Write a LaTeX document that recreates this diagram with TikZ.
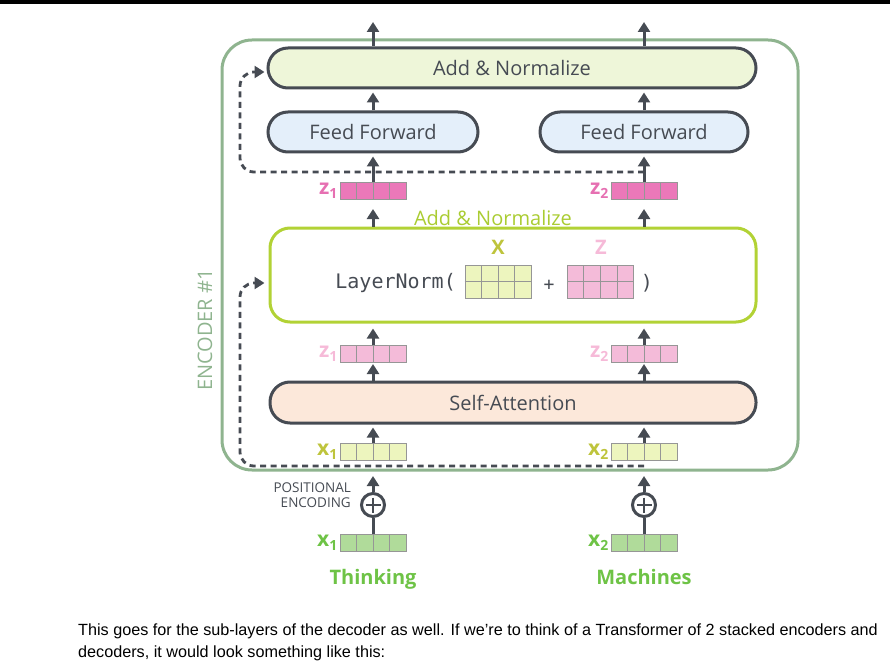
\documentclass[tikz,border=0pt]{standalone}
\usepackage{fontspec}
\setmainfont{Open Sans}
\newfontfamily\monoFont{DejaVu Sans Mono}
\newfontfamily\bodyFont{Liberation Sans}
\usetikzlibrary{calc,arrows.meta}
\definecolor{darkSlate}{RGB}{70,75,83}
\definecolor{encGreen}{RGB}{143,180,143}
\definecolor{cellGray}{RGB}{150,150,150}
\definecolor{addFill}{RGB}{238,246,217}
\definecolor{ffFill}{RGB}{228,239,250}
\definecolor{saFill}{RGB}{252,232,218}
\definecolor{lnGreen}{RGB}{178,210,53}
\definecolor{lnText}{RGB}{170,204,50}
\definecolor{xFill}{RGB}{237,245,190}
\definecolor{xOlive}{RGB}{190,196,60}
\definecolor{zFill}{RGB}{244,187,217}
\definecolor{zPink}{RGB}{246,186,216}
\definecolor{zDeepFill}{RGB}{235,120,185}
\definecolor{zDeep}{RGB}{230,112,178}
\definecolor{inFill}{RGB}{176,219,154}
\definecolor{inGreen}{RGB}{110,195,70}
\tikzset{
  layerBox/.style={draw=darkSlate,line width=3pt,rounded corners=20pt,minimum height=40pt,inner sep=0pt,font=\fontsize{20}{24}\selectfont\color{darkSlate}},
  flowArrow/.style={draw=darkSlate,line width=3pt,shorten >=3pt,-{Triangle[width=12pt,length=10pt]}},
  flowLine/.style={draw=darkSlate,line width=3pt},
  skipLine/.style={draw=darkSlate,line width=2.8pt,dash pattern=on 6pt off 4.5pt,rounded corners=14pt,-{Triangle[width=12pt,length=10pt]}},
  vecBox/.style={draw=cellGray,line width=1pt,minimum width=66pt,minimum height=17pt,inner sep=0pt},
  cellLine/.style={draw=cellGray,line width=1pt},
  vecLabel/.style={anchor=east,inner sep=2pt,font=\fontsize{21}{21}\selectfont\bfseries},
  plusNode/.style={circle,draw=darkSlate,line width=3pt,minimum size=23pt,inner sep=0pt}
}
\newcommand{\VecName}[2]{#1\raisebox{-0.18em}{\fontsize{14}{14}\selectfont #2}}
\newcommand{\CellVec}[4]{%
  \node[vecBox,fill=#4] (#1) at (#2,#3) {};
  \foreach \k in {1,2,3}
    \draw[cellLine] ($(#1.south west)!\k/4!(#1.south east)$) -- ($(#1.north west)!\k/4!(#1.north east)$);
}
\newcommand{\CellMat}[4]{%
  \node[vecBox,minimum height=33pt,fill=#4] (#1) at (#2,#3) {};
  \foreach \k in {1,2,3}
    \draw[cellLine] ($(#1.south west)!\k/4!(#1.south east)$) -- ($(#1.north west)!\k/4!(#1.north east)$);
  \draw[cellLine] (#1.west) -- (#1.east);
}
\begin{document}
\begin{tikzpicture}[x=1pt,y=-1pt]
\useasboundingbox (0,0) rectangle (890,668);
\fill[black] (0,0) rectangle (890,4);

% encoder frame
\node[draw=encGreen,line width=3pt,rounded corners=30pt,minimum width=576pt,minimum height=430pt] (encoder) at (510,255) {};
\node[rotate=90,text=encGreen,font=\fontsize{20}{20}\selectfont] (encLabel) at (205,330) {ENCODER \#1};

% layers
\node[layerBox,fill=addFill,minimum width=488pt] (addNorm) at (512,68) {Add \& Normalize};
\node[layerBox,fill=ffFill,minimum width=210pt] (ffLeft) at (373,132) {Feed Forward};
\node[layerBox,fill=ffFill,minimum width=208pt] (ffRight) at (644,132) {Feed Forward};
\node[draw=lnGreen,line width=3pt,rounded corners=20pt,fill=white,minimum width=486pt,minimum height=94pt] (layerNorm) at (513,275) {};
\node[layerBox,fill=saFill,minimum width=486pt,minimum height=41pt] (selfAtt) at (513,402.5) {Self-Attention};
\node[text=lnText,font=\fontsize{20}{20}\selectfont,inner sep=1pt] (lnTitle) at (493,218) {Add \& Normalize};

% inside layer norm
\node[anchor=east,inner sep=2pt,text=darkSlate,font=\monoFont\fontsize{20}{20}\selectfont] (lnWord) at (458,283) {LayerNorm(};
\CellMat{matX}{498}{281.5}{xFill}
\CellMat{matZ}{600.5}{281.5}{zFill}
\node[text=darkSlate,font=\monoFont\fontsize{18}{18}\selectfont] (lnPlus) at (549,285) {+};
\node[text=darkSlate,font=\monoFont\fontsize{20}{20}\selectfont] (lnClose) at (647,283) {)};
\node[text=xOlive,font=\fontsize{20}{20}\selectfont\bfseries] (matXName) at (498,247) {X};
\node[text=zPink,font=\fontsize{20}{20}\selectfont\bfseries] (matZName) at (601,247) {Z};

% vectors
\CellVec{zTopL}{373}{191}{zDeepFill}
\CellVec{zTopR}{644}{191}{zDeepFill}
\CellVec{zL}{373}{354}{zFill}
\CellVec{zR}{644}{354}{zFill}
\CellVec{xL}{373}{452}{xFill}
\CellVec{xR}{644}{452}{xFill}
\CellVec{inL}{373}{542.5}{inFill}
\CellVec{inR}{644}{542.5}{inFill}
\node[vecLabel,text=zDeep] (zTopLName) at (zTopL.west) {\VecName{z}{1}};
\node[vecLabel,text=zDeep] (zTopRName) at (zTopR.west) {\VecName{z}{2}};
\node[vecLabel,text=zPink] (zLName) at (zL.west) {\VecName{z}{1}};
\node[vecLabel,text=zPink] (zRName) at (zR.west) {\VecName{z}{2}};
\node[vecLabel,text=xOlive] (xLName) at (xL.west) {\VecName{x}{1}};
\node[vecLabel,text=xOlive] (xRName) at (xR.west) {\VecName{x}{2}};
\node[vecLabel,text=inGreen] (inLName) at (inL.west) {\VecName{x}{1}};
\node[vecLabel,text=inGreen] (inRName) at (inR.west) {\VecName{x}{2}};

% positional encoding
\node[plusNode] (posL) at (373,505) {};
\node[plusNode] (posR) at (644,505) {};
\foreach \p in {posL,posR}
  \draw[flowLine,line width=2.6pt] ($(\p)+(-7.5,0)$) -- ($(\p)+(7.5,0)$) ($(\p)+(0,-7.5)$) -- ($(\p)+(0,7.5)$);
\node[anchor=east,align=right,text=darkSlate,font=\fontsize{13.5}{14.5}\selectfont,inner sep=0pt] (posText) at (351,495) {POSITIONAL\\ENCODING};

% words
\node[anchor=base,text=inGreen,font=\fontsize{20}{20}\selectfont\bfseries] (wordL) at (373,584) {Thinking};
\node[anchor=base,text=inGreen,font=\fontsize{20}{20}\selectfont\bfseries] (wordR) at (644,584) {Machines};

% outputs
\coordinate (outL) at (373,22);
\coordinate (outR) at (644,22);
\coordinate (skipTopStart) at (644,172);
\coordinate (skipBotStart) at (644,466);

% connectors
\foreach \c/\f/\z/\x/\i/\o/\q in {L/ffLeft/zTopL/xL/inL/outL/posL, R/ffRight/zTopR/xR/inR/outR/posR}{
  \draw[flowArrow,shorten >=0pt] (\o |- addNorm.north) -- (\o);
  \draw[flowArrow] (\f.north) -- (\f |- addNorm.south);
  \draw[flowArrow] (\z.north) -- (\f.south);
  \draw[flowArrow,shorten >=9pt] (layerNorm.north -| \z) -- (\z.south);
  \draw[flowArrow,shorten >=5pt] (z\c.north) -- (layerNorm.south -| z\c);
  \draw[flowArrow,shorten >=1pt] (selfAtt.north -| z\c) -- (z\c.south);
  \draw[flowArrow] (\x.north) -- (selfAtt.south -| \x);
  \draw[flowArrow,shorten >=15pt] (\q.north) -- (\x.south);
  \draw[flowLine] (\i.north) -- (\q.south);
}
\draw[skipLine] (skipTopStart) -- (240,172) -- (240,72) -- ($(addNorm.west)+(-2,4)$);
\draw[skipLine] (skipBotStart) -- (240,466) -- (240,283) -- ($(layerNorm.west)+(-4,8)$);

% caption text
\node[anchor=north west,align=left,inner sep=0pt,font=\bodyFont\fontsize{16.2}{22}\selectfont] (caption) at (78,624) {This goes for the sub-layers of the decoder as well. If we’re to think of a Transformer of 2 stacked encoders and\\decoders, it would look something like this:};
\end{tikzpicture}
\end{document}
